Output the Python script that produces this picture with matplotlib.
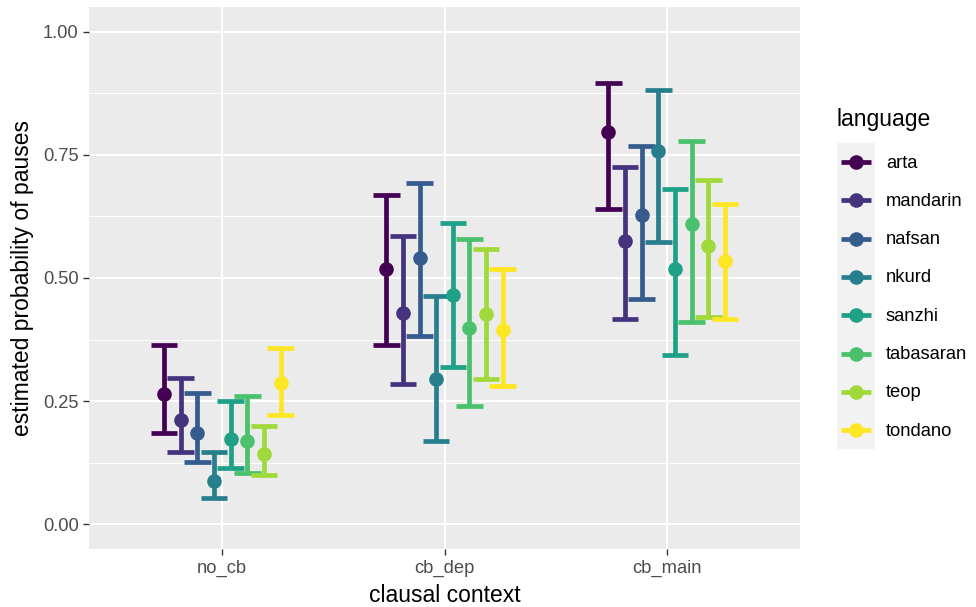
import numpy as np
import matplotlib
matplotlib.use("Agg")
import matplotlib.pyplot as plt
from matplotlib.legend_handler import HandlerBase
from matplotlib.patches import Rectangle
from matplotlib.lines import Line2D

plt.rcParams['font.family'] = ['Liberation Sans', 'DejaVu Sans']

contexts = ['no_cb', 'cb_dep', 'cb_main']
languages = ['arta', 'mandarin', 'nafsan', 'nkurd', 'sanzhi', 'tabasaran', 'teop', 'tondano']
colors = ['#440154', '#46337E', '#365C8D', '#277F8E', '#1FA187', '#4AC16D', '#9FDA3A', '#FDE725']

# rows: languages, columns: contexts (no_cb, cb_dep, cb_main)
estimate = [
    [0.264, 0.518, 0.797],
    [0.211, 0.428, 0.575],
    [0.186, 0.541, 0.627],
    [0.089, 0.296, 0.758],
    [0.173, 0.465, 0.518],
    [0.169, 0.398, 0.610],
    [0.142, 0.426, 0.565],
    [0.287, 0.395, 0.534],
]
lower = [
    [0.186, 0.364, 0.641],
    [0.147, 0.285, 0.416],
    [0.127, 0.383, 0.458],
    [0.053, 0.169, 0.573],
    [0.114, 0.320, 0.344],
    [0.105, 0.240, 0.410],
    [0.100, 0.295, 0.421],
    [0.222, 0.280, 0.417],
]
upper = [
    [0.364, 0.668, 0.896],
    [0.297, 0.586, 0.726],
    [0.266, 0.692, 0.767],
    [0.147, 0.464, 0.881],
    [0.250, 0.612, 0.681],
    [0.260, 0.579, 0.778],
    [0.199, 0.559, 0.699],
    [0.358, 0.519, 0.651],
]

W, H = 976, 607
fig = plt.figure(figsize=(W / 100, H / 100), dpi=100)
px0, px1, py0, py1 = 89, 800, 7, 549
ax = fig.add_axes([px0 / W, 1 - py1 / H, (px1 - px0) / W, (py1 - py0) / H])
ax.set_facecolor('#EBEBEB')
for s in ax.spines.values():
    s.set_visible(False)

ax.set_xlim(0.4, 3.6)
ax.set_ylim(-0.05, 1.05)
yt = [0, 0.25, 0.5, 0.75, 1.0]
ax.set_yticks(yt)
ax.set_yticklabels([f"{v:.2f}" for v in yt])
ax.set_yticks([0.125, 0.375, 0.625, 0.875], minor=True)
ax.set_xticks([1, 2, 3])
ax.set_xticklabels(contexts)
ax.grid(which='major', color='white', linewidth=1.5)
ax.grid(which='minor', axis='y', color='white', linewidth=0.75)
ax.set_axisbelow(True)
ax.tick_params(axis='both', which='major', length=4, width=1.0, color='#333333',
               labelcolor='#4D4D4D', labelsize=13.2, pad=3.5)
ax.tick_params(axis='both', which='minor', length=0)

n = len(languages)
dodge = 0.6
capw = 0.12
xbase = np.arange(1, len(contexts) + 1)
lw = 3.4
for i, lang in enumerate(languages):
    x = xbase + (i - (n - 1) / 2) * dodge / n
    ax.vlines(x, lower[i], upper[i], color=colors[i], linewidth=lw, zorder=2)
    ax.hlines(lower[i], x - capw / 2, x + capw / 2, color=colors[i], linewidth=lw, zorder=2)
    ax.hlines(upper[i], x - capw / 2, x + capw / 2, color=colors[i], linewidth=lw, zorder=2)
for i, lang in enumerate(languages):
    x = xbase + (i - (n - 1) / 2) * dodge / n
    ax.plot(x, estimate[i], 'o', color=colors[i], markersize=10.5, markeredgewidth=0,
            zorder=3, label=lang)

ax.set_xlabel('clausal context', fontsize=16.5, color='black')
ax.set_ylabel('estimated probability of pauses', fontsize=16.5, color='black')
ax.xaxis.set_label_coords(0.5, (py1 - 584) / (py1 - py0))
ax.yaxis.set_label_coords((34 - px0) / (px1 - px0), 0.5)


class KeyHandler(HandlerBase):
    def create_artists(self, legend, orig_handle, xdescent, ydescent, width, height,
                       fontsize, trans):
        bg = Rectangle((-xdescent, -ydescent), width, height, facecolor='#F2F2F2',
                       edgecolor='none', transform=trans)
        c = orig_handle.get_color()
        y = -ydescent + height / 2
        inset = width * 0.1
        ln = Line2D([-xdescent + inset, -xdescent + width - inset], [y, y], color=c,
                    linewidth=lw, solid_capstyle='butt', transform=trans)
        mk = Line2D([-xdescent + width / 2], [y], marker='o', markersize=10.5,
                    markeredgewidth=0, color=c, linestyle='none', transform=trans)
        return [bg, ln, mk]


handles = [Line2D([], [], color=c) for c in colors]
fs = 13.2
row_pt = 38.3 * 0.72
hh = (row_pt / fs - 0.245) / 0.65
leg = ax.legend(handles, languages, handler_map={Line2D: KeyHandler()},
                loc='upper left', bbox_to_anchor=(837 / W, 1 - 108 / H),
                bbox_transform=fig.transFigure, frameon=False, fontsize=fs,
                title='language', title_fontsize=16.5, alignment='left',
                handlelength=38 * 0.72 / fs, handleheight=hh,
                labelspacing=0, handletextpad=11 * 0.72 / fs, borderpad=0,
                borderaxespad=0)
leg._legend_box.sep = 12 * 0.72

fig.savefig('out.png', dpi=100)
